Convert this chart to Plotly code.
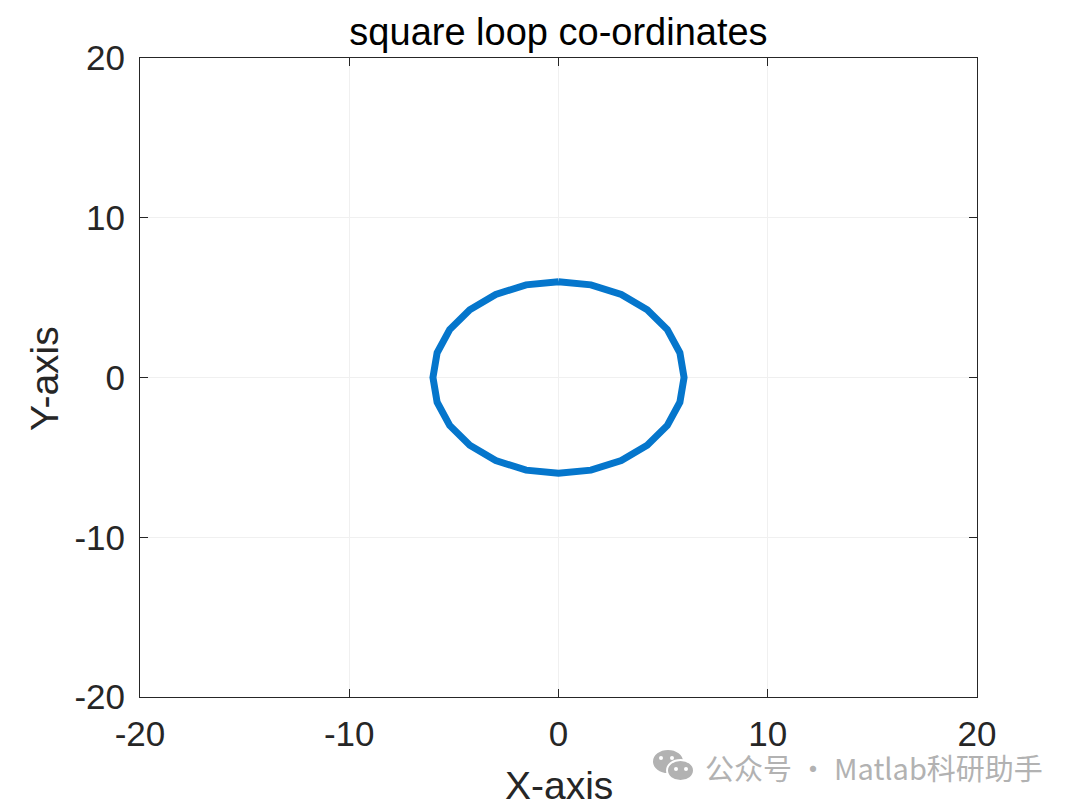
import plotly.graph_objects as go

# Loop vertices
x_vals = [0, 1.55, 3, 4.24, 5.2, 5.8, 6, 5.8, 5.2, 4.24, 3, 1.55, 0,
          -1.55, -3, -4.24, -5.2, -5.8, -6, -5.8, -5.2, -4.24, -3, -1.55, 0]
y_vals = [6, 5.8, 5.2, 4.24, 3, 1.55, 0, -1.55, -3, -4.24, -5.2, -5.8, -6,
          -5.8, -5.2, -4.24, -3, -1.55, 0, 1.55, 3, 4.24, 5.2, 5.8, 6]
tick_vals = [-20, -10, 0, 10, 20]
tick_text = ["-20", "-10", "0", "10", "20"]

FONT = "Liberation Sans, Arial, sans-serif"
AX = "#262626"
OFF = 8  # page body margin

# plot area in page pixels: x 140..977, y 58..697
L, T, PW, PH = 140 - OFF, 58 - OFF, 837, 639
W, H = 1080, 808


def px(xp):
    return (xp - OFF - L) / PW


def py(yp):
    return 1 - (yp - OFF - T) / PH


fig = go.Figure()
fig.add_trace(go.Scatter(x=x_vals, y=y_vals, mode="lines",
                         line=dict(color="#0576CC", width=7),
                         showlegend=False, hoverinfo="skip"))

axis_common = dict(
    range=[-20, 20], tickmode="array", tickvals=tick_vals, ticktext=tick_text,
    showline=True, linecolor=AX, linewidth=1, mirror="ticks",
    ticks="inside", ticklen=8, tickcolor=AX, tickwidth=1,
    showgrid=True, gridcolor="#f0f0f0", gridwidth=1,
    zeroline=False, tickfont=dict(family=FONT, size=35, color=AX),
)

fig.update_layout(
    width=W, height=H,
    margin=dict(l=L, r=W - L - PW, t=T, b=H - T - PH),
    paper_bgcolor="white", plot_bgcolor="white",
    title=dict(text="square loop co-ordinates", x=0.5, xref="paper",
               xanchor="center", y=1 - (32 - OFF) / H, yanchor="middle",
               font=dict(family=FONT, size=38, color="black")),
    xaxis=dict(axis_common, ticklabelstandoff=6),
    yaxis=dict(axis_common, ticklabelstandoff=7),
)

# axis labels
fig.add_annotation(text="X-axis", xref="paper", yref="paper",
                   x=px(559), y=py(785), xanchor="center", yanchor="middle",
                   showarrow=False, font=dict(family=FONT, size=39, color=AX))
fig.add_annotation(text="Y-axis", xref="paper", yref="paper",
                   x=px(44), y=py(379), xanchor="center", yanchor="middle",
                   textangle=-90, showarrow=False,
                   font=dict(family=FONT, size=39, color=AX))

# watermark
fig.add_annotation(text="公众号 · Matlab科研助手", xref="paper", yref="paper",
                   x=px(703), y=py(767), xanchor="left",
                   yanchor="middle", showarrow=False,
                   font=dict(family="Noto Sans CJK SC", size=29, color="#b2b2b2"))
# wechat icon approximated with two bubbles and their eyes
fig.add_shape(type="circle", xref="paper", yref="paper",
              x0=px(653), x1=px(683), y0=py(773), y1=py(750),
              fillcolor="#b2b2b2", line=dict(width=0))
for ex in (661, 672):
    fig.add_shape(type="circle", xref="paper", yref="paper",
                  x0=px(ex - 2), x1=px(ex + 2), y0=py(760), y1=py(756),
                  fillcolor="white", line=dict(width=0))
fig.add_shape(type="circle", xref="paper", yref="paper",
              x0=px(667), x1=px(694), y0=py(781), y1=py(760),
              fillcolor="#b2b2b2", line=dict(color="white", width=2))
for ex in (676, 686):
    fig.add_shape(type="circle", xref="paper", yref="paper",
                  x0=px(ex - 2), x1=px(ex + 2), y0=py(771), y1=py(767),
                  fillcolor="white", line=dict(width=0))

fig.write_html("out.html")
